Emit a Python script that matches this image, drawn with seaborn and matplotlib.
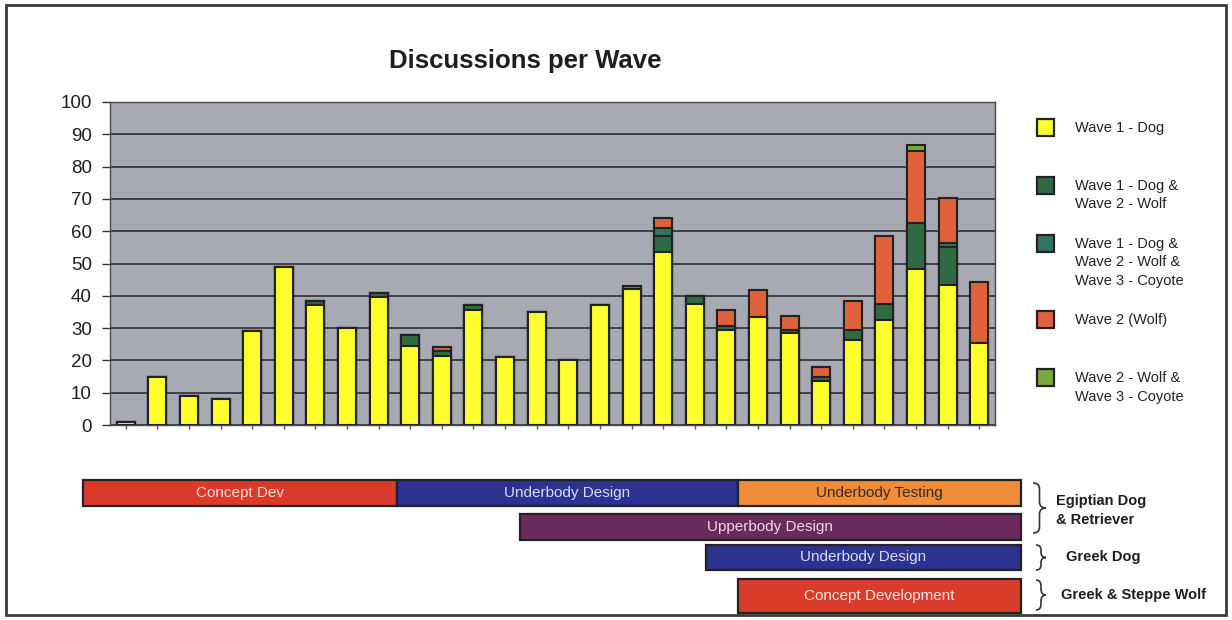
import matplotlib
matplotlib.use("Agg")
import matplotlib.pyplot as plt
from matplotlib.patches import Rectangle, PathPatch
from matplotlib.path import Path
import numpy as np
import pandas as pd
import seaborn as sns

# ---- discussion counts per period, split by wave combination ----
periods = [str(i) for i in range(1, 29)]
wave1_dog = [1, 15, 9, 8, 29, 49, 37, 30, 39.5, 24.5, 21.5, 35.5, 21, 35,
             20, 37, 42, 53.5, 37.5, 29.4, 33.5, 28.5, 13.5, 26.3, 32.5,
             48.3, 43.2, 25.4]
wave1_dog_wave2_wolf = [0, 0, 0, 0, 0, 0, 1.3, 0, 1.5, 3.5, 1.5, 1.5, 0, 0,
                        0, 0, 0, 5, 2.3, 1.4, 0, 1, 1.5, 3.1, 5,
                        14.2, 12, 0]
wave1_wave2_wave3 = [0, 0, 0, 0, 0, 0, 0, 0, 0, 0, 0, 0, 0, 0,
                     0, 0, 0, 2.5, 0, 0, 0, 0, 0, 0, 0,
                     0, 1.3, 0]
wave2_wolf = [0, 0, 0, 0, 0, 0, 0, 0, 0, 0, 1, 0, 0, 0,
              0, 0, 1, 3, 0, 4.9, 8.3, 4.3, 3, 9.1, 21,
              22.2, 13.7, 19]
wave2_wolf_wave3_coyote = [0, 0, 0, 0, 0, 0, 0, 0, 0, 0, 0, 0, 0, 0,
                           0, 0, 0, 0, 0, 0, 0, 0, 0, 0, 0,
                           1.9, 0, 0]

series_labels = ["Wave 1 - Dog",
                 "Wave 1 - Dog &\nWave 2 - Wolf",
                 "Wave 1 - Dog &\nWave 2 - Wolf &\nWave 3 - Coyote",
                 "Wave 2 (Wolf)",
                 "Wave 2 - Wolf &\nWave 3 - Coyote"]
series_colors = ["#ffff2e", "#2f6a42", "#2e7565", "#e0623a", "#78ab3a"]
y_ticks = [0, 10, 20, 30, 40, 50, 60, 70, 80, 90, 100]

# ---- project phases (in period units) ----
phase_names = ["Concept Dev", "Underbody Design", "Underbody Testing",
               "Upperbody Design", "Underbody Design", "Concept Development"]
phase_start = [-1.35, 8.58, 19.37, 12.47, 18.36, 19.37]
phase_end = [8.58, 19.37, 28.32, 28.32, 28.32, 28.32]
phase_row = [0, 0, 0, 1, 2, 3]
phase_colors = ["#d93a2c", "#2c3290", "#f08d3a", "#6a2b5c", "#2c3290", "#d93c2b"]
phase_text_colors = ["#f8dcd6", "#d8daf5", "#3a2a1e", "#f3d6ea", "#d8daf5", "#fbe4de"]
group_names = ["Egiptian Dog\n& Retriever", "Greek Dog", "Greek & Steppe Wolf"]

W, H = 1232, 620
sns.set_style("white")
plt.rcParams["font.family"] = ["Liberation Sans", "DejaVu Sans"]

fig = plt.figure(figsize=(W / 100, H / 100), dpi=100)
fig.patch.set_facecolor("white")

# ---- main bar chart ----
L, R, T, B = 110, 995, 102, 425
ax = fig.add_axes([L / W, 1 - B / H, (R - L) / W, (B - T) / H])
ax.set_facecolor("#a8aab3")

layers = [wave1_dog, wave1_dog_wave2_wolf, wave1_wave2_wave3,
          wave2_wolf, wave2_wolf_wave3_coyote]
cum = np.cumsum(np.array(layers, dtype=float), axis=0)
# draw cumulative totals from the top layer down so each lower layer overlays
for k in range(len(layers) - 1, -1, -1):
    df = pd.DataFrame({"period": periods, "value": cum[k]})
    sns.barplot(data=df, x="period", y="value", order=periods,
                color=series_colors[k], saturation=1, width=0.57,
                edgecolor="#222222", linewidth=1.5, errorbar=None, ax=ax,
                zorder=3)

ax.set_xlim(-0.5, 27.5)
ax.set_ylim(0, 100)
ax.set_yticks(y_ticks)
ax.set_yticklabels([str(v) for v in y_ticks], fontsize=13.5, color="#1e1e1e")
ax.set_xticklabels([])
ax.set_xlabel("")
ax.set_ylabel("")
ax.yaxis.grid(True, color="#2e2e2e", linewidth=1.2)
ax.xaxis.grid(False)
ax.set_axisbelow(True)
ax.tick_params(axis="y", direction="out", length=6, width=1, color="#333333",
               pad=7, left=True)
ax.tick_params(axis="x", direction="out", length=3, width=1, color="#555555",
               bottom=True)
for s in ax.spines.values():
    s.set_color("#4a4a4a")
    s.set_linewidth(1.0)

fig.text(525 / W, 1 - 61 / H, "Discussions per Wave", ha="center",
         va="center", fontsize=18.5, fontweight="bold", color="#1e1e1e")

# ---- timeline of phases, sharing the period scale ----
ax_t = fig.add_axes([L / W, 0, (R - L) / W, 150 / H])
ax_t.set_xlim(-0.5, 27.5)
ax_t.set_ylim(620, 470)
ax_t.axis("off")
row_center = [493, 527, 557.5, 596]
row_height = [26, 26, 25, 34]
for name, s, e, r, c, tc in zip(phase_names, phase_start, phase_end,
                                phase_row, phase_colors, phase_text_colors):
    y0 = row_center[r] - row_height[r] / 2
    ax_t.add_patch(Rectangle((s, y0), e - s, row_height[r], facecolor=c,
                             edgecolor="#222222", linewidth=1.6,
                             clip_on=False, zorder=2))
    ax_t.text((s + e) / 2, row_center[r], name, ha="center", va="center",
              fontsize=11, color=tc, clip_on=False, zorder=3)

# ---- overlay in pixel coordinates: legend, braces, frame ----
ov = fig.add_axes([0, 0, 1, 1], facecolor="none")
ov.set_xlim(0, W)
ov.set_ylim(H, 0)
ov.axis("off")

legend_y = [127, 185, 243, 319, 377]
for lab, col, cy in zip(series_labels, series_colors, legend_y):
    ov.add_patch(Rectangle((1037, cy - 8.5), 17, 17, facecolor=col,
                           edgecolor="#222222", linewidth=1.6))
    for j, line in enumerate(lab.split("\n")):
        ov.text(1075, cy + 1 + j * 18.5, line, ha="left", va="center",
                fontsize=10.5, color="#222222")


def brace(x0, w, yt, yb):
    xm = x0 + w / 2
    ym = (yt + yb) / 2
    r = min(6, (yb - yt) / 5)
    verts = [(x0, yt), (xm, yt), (xm, yt + r),
             (xm, ym - r), (xm, ym), (x0 + w, ym),
             (xm, ym), (xm, ym + r),
             (xm, yb - r), (xm, yb), (x0, yb)]
    codes = [Path.MOVETO, Path.CURVE3, Path.CURVE3,
             Path.LINETO, Path.CURVE3, Path.CURVE3,
             Path.CURVE3, Path.CURVE3,
             Path.LINETO, Path.CURVE3, Path.CURVE3]
    ov.add_patch(PathPatch(Path(verts, codes), facecolor="none",
                           edgecolor="#333333", linewidth=1.2))


brace(1033, 13, 483, 533)
brace(1036, 10, 545, 570)
brace(1036, 10, 580, 610)

ov.text(1056, 501, "Egiptian Dog", ha="left", va="center", fontsize=10.5,
        fontweight="bold", color="#1e1e1e")
ov.text(1056, 520, "& Retriever", ha="left", va="center", fontsize=10.5,
        fontweight="bold", color="#1e1e1e")
ov.text(1066, 557, group_names[1], ha="left", va="center", fontsize=10.5,
        fontweight="bold", color="#1e1e1e")
ov.text(1061, 595, group_names[2], ha="left", va="center", fontsize=10.5,
        fontweight="bold", color="#1e1e1e")

ov.add_patch(Rectangle((6, 5), W - 12, H - 10, facecolor="none",
                       edgecolor="#3a3a3a", linewidth=2))

fig.savefig("out.png", dpi=100, facecolor="white")
